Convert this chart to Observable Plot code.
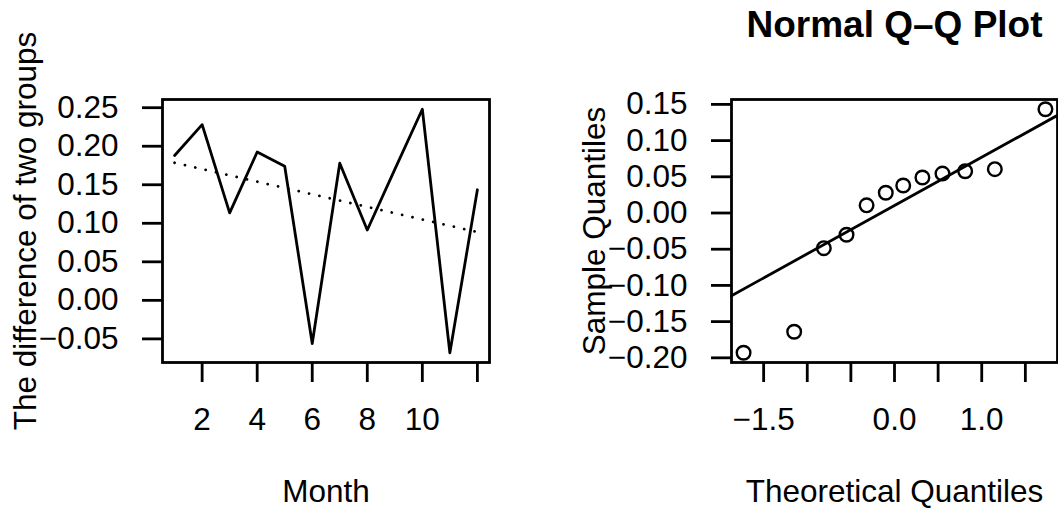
<!DOCTYPE html>
<html>
<head>
<meta charset="utf-8">
<script src="https://cdn.jsdelivr.net/npm/d3@7"></script>
<script src="https://cdn.jsdelivr.net/npm/@observablehq/plot@0.6"></script>
<style>
  html, body { margin: 0; padding: 0; background: #fff; }
  #chart { position: relative; width: 1058px; height: 511px; overflow: hidden; background: #fff; }
  #chart svg { position: absolute; top: 0; }
</style>
</head>
<body>
<div id="chart"></div>
<script>
// Monthly difference between the two groups
const months = [1, 2, 3, 4, 5, 6, 7, 8, 9, 10, 11, 12];
const differences = [0.188, 0.228, 0.1135, 0.1925, 0.174, -0.056, 0.178, 0.0913, 0.170, 0.248, -0.068, 0.1435];
const monthTicks = [2, 4, 6, 8, 10, 12];
const monthTickLabels = ["2", "4", "6", "8", "10", ""];
const diffTicks = [-0.05, 0, 0.05, 0.10, 0.15, 0.20, 0.25];
const diffTickLabels = ["−0.05", "0.00", "0.05", "0.10", "0.15", "0.20", "0.25"];

// Normal Q–Q plot of the residuals
const theoreticalQuantiles = [-1.73, -1.15, -0.81, -0.55, -0.32, -0.10, 0.10, 0.32, 0.55, 0.81, 1.15, 1.73];
const sampleQuantiles = [-0.193, -0.164, -0.0486, -0.030, 0.0106, 0.028, 0.038, 0.049, 0.0545, 0.0577, 0.0605, 0.1433];
const theoTicks = [-1.5, -1, -0.5, 0, 0.5, 1, 1.5];
const theoTickLabels = ["−1.5", "", "", "0.0", "", "1.0", ""];
const sampleTicks = [-0.20, -0.15, -0.10, -0.05, 0, 0.05, 0.10, 0.15];
const sampleTickLabels = ["−0.20", "−0.15", "−0.10", "−0.05", "0.00", "0.05", "0.10", "0.15"];

const FONT = "'Liberation Sans', Arial, Helvetica, sans-serif";
const SIZE = 31.5;
const LW = 2.8;

// axis range padded by 4% on each side
const pad = ([a, b]) => [a - (b - a) * 0.04, b + (b - a) * 0.04];
const labeler = (ticks, labels) => d => {
  const i = ticks.findIndex(t => Math.abs(t - d) < 1e-9);
  return i < 0 ? "" : labels[i];
};

// least-squares trend of the monthly differences
const mx = d3.mean(months), my = d3.mean(differences);
const sxy = d3.sum(months, (m, i) => (m - mx) * (differences[i] - my));
const sxx = d3.sum(months, m => (m - mx) ** 2);
const slope = sxy / sxx, intercept = my - slope * mx;
const trend = d3.extent(months).map(m => ({m, v: intercept + slope * m}));

const series = months.map((m, i) => ({m, v: differences[i]}));

const left = Plot.plot({
  width: 529, height: 511,
  marginLeft: 162, marginRight: 40, marginTop: 99, marginBottom: 149,
  style: {fontFamily: FONT, background: "transparent", color: "black"},
  x: {domain: pad(d3.extent(months))},
  y: {domain: pad(d3.extent(differences))},
  marks: [
    Plot.axisX({ticks: monthTicks, tickFormat: labeler(monthTicks, monthTickLabels), tickSize: 20, tickPadding: 25.5, fontSize: SIZE, strokeWidth: LW, label: null}),
    Plot.axisY({ticks: diffTicks, tickFormat: labeler(diffTicks, diffTickLabels), tickSize: 20, tickPadding: 24, fontSize: SIZE, strokeWidth: LW, label: null}),
    Plot.line(trend, {x: "m", y: "v", stroke: "black", strokeWidth: LW, strokeDasharray: "0.01,10.6", strokeLinecap: "round"}),
    Plot.line(series, {x: "m", y: "v", stroke: "black", strokeWidth: LW, strokeLinejoin: "round"}),
    Plot.frame({stroke: "black", strokeWidth: LW}),
    Plot.text(["Month"], {text: d => d, frameAnchor: "bottom", dy: 139, lineAnchor: "bottom", fontSize: SIZE, fill: "black"}),
    Plot.text(["The difference of two groups"], {text: d => d, frameAnchor: "left", textAnchor: "middle", rotate: -90, dx: -126.5, lineAnchor: "bottom", fontSize: SIZE, fill: "black"})
  ]
});
left.style.left = "0px";

// reference line through the first and third quartiles
const q1 = d3.quantile(sampleQuantiles, 0.25), q3 = d3.quantile(sampleQuantiles, 0.75);
const z75 = 0.6744898;
const qqSlope = (q3 - q1) / (2 * z75);
const qqIntercept = q1 + qqSlope * z75;
const xDomain = pad(d3.extent(theoreticalQuantiles));
const qqLine = xDomain.map(t => ({t, s: qqIntercept + qqSlope * t}));

const points = theoreticalQuantiles.map((t, i) => ({t, s: sampleQuantiles[i]}));

const right = Plot.plot({
  width: 529, height: 511,
  marginLeft: 202, marginRight: 1, marginTop: 99, marginBottom: 149,
  style: {fontFamily: FONT, background: "transparent", color: "black"},
  x: {domain: xDomain},
  y: {domain: pad(d3.extent(sampleQuantiles))},
  marks: [
    Plot.axisX({ticks: theoTicks, tickFormat: labeler(theoTicks, theoTickLabels), tickSize: 20, tickPadding: 25.5, fontSize: SIZE, strokeWidth: LW, label: null}),
    Plot.axisY({ticks: sampleTicks, tickFormat: labeler(sampleTicks, sampleTickLabels), tickSize: 20, tickPadding: 24, fontSize: SIZE, strokeWidth: LW, label: null}),
    Plot.line(qqLine, {x: "t", y: "s", stroke: "black", strokeWidth: LW}),
    Plot.dot(points, {x: "t", y: "s", r: 6.8, stroke: "black", strokeWidth: 2.4, fill: "none"}),
    Plot.frame({stroke: "black", strokeWidth: LW}),
    Plot.text(["Normal Q–Q Plot"], {text: d => d, frameAnchor: "top", dy: -62.3, lineAnchor: "bottom", fontSize: 37, fontWeight: "bold", fill: "black"}),
    Plot.text(["Theoretical Quantiles"], {text: d => d, frameAnchor: "bottom", dy: 139, lineAnchor: "bottom", fontSize: SIZE, fill: "black"}),
    Plot.text(["Sample Quantiles"], {text: d => d, frameAnchor: "left", textAnchor: "middle", rotate: -90, dx: -127, lineAnchor: "bottom", fontSize: SIZE, fill: "black"})
  ]
});
right.style.left = "529px";

const chart = document.getElementById("chart");
chart.appendChild(left);
chart.appendChild(right);
</script>
</body>
</html>
